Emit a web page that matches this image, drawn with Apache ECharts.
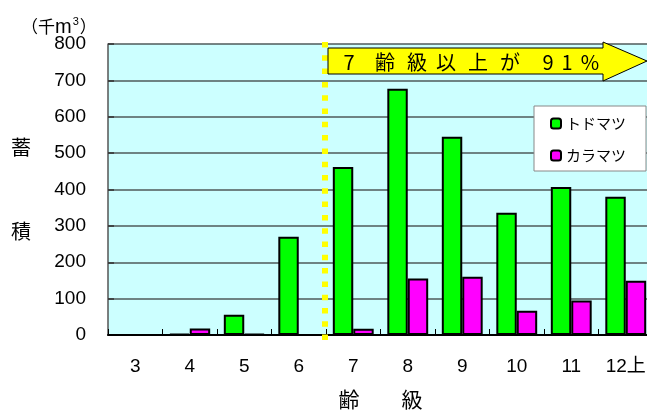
<!DOCTYPE html>
<html>
<head>
<meta charset="utf-8">
<script src="https://cdn.jsdelivr.net/npm/echarts@6/dist/echarts.min.js"></script>
<style>
html,body{margin:0;padding:0;background:#fff;}
#c{width:647px;height:410px;}
</style>
</head>
<body>
<div id="c"></div>
<script>
const categories = ['3', '4', '5', '6', '7', '8', '9', '10', '11', '12上'];
const todomatsu = [0, 3, 56, 270, 462, 677, 545, 336, 407, 380];
const karamatsu = [0, 18, 3, 0, 17, 155, 160, 67, 95, 149];
const seriesNames = ['トドマツ', 'カラマツ'];
const yMin = 0, yMax = 800, yInterval = 100;
const boundaryIndex = 4; // boundary between 6 and 7 age classes
const arrowChars = ['7', '齢', '級', '以', '上', 'が', '9', '1', '%'];
const arrowCharX = [349, 385, 417, 446, 478, 510, 548, 567, 590];

const FONT = "'Liberation Sans','Noto Sans CJK JP',sans-serif";
const CJK = "'Noto Sans CJK JP',sans-serif";

const chart = echarts.init(document.getElementById('c'), null, {renderer: 'canvas'});

const arrowGraphics = [{
  type: 'polygon',
  shape: {points: [[328, 48], [603, 48], [603, 42], [647, 61], [603, 81], [603, 74], [328, 74]]},
  style: {fill: '#FFFF00', stroke: '#000', lineWidth: 1},
  z: 100
}];
arrowChars.forEach((ch, i) => {
  arrowGraphics.push({
    type: 'text',
    x: arrowCharX[i], y: 62,
    style: {text: ch, font: "20px " + CJK, fill: '#000', align: 'center', verticalAlign: 'middle'},
    z: 101
  });
});

chart.setOption({
  animation: false,
  backgroundColor: '#fff',
  textStyle: {fontFamily: FONT},
  title: {
    left: 16, top: 11,
    text: '{a|（千}{m|m}{s|3}{a|）}',
    textStyle: {
      fontWeight: 'normal',
      rich: {
        a: {fontSize: 17, fontFamily: CJK, color: '#000', fontWeight: 'normal'},
        m: {fontSize: 20, fontFamily: FONT, color: '#000', fontWeight: 'normal'},
        s: {fontSize: 11, fontFamily: FONT, color: '#000', fontWeight: 'normal', padding: [0, 1, 11, 1]}
      }
    }
  },
  grid: {left: 108, top: 44, right: -6, bottom: 75, show: true, backgroundColor: '#CCFFFF', borderWidth: 0,
         containLabel: false, outerBoundsMode: 'none'},
  legend: {
    data: seriesNames,
    orient: 'vertical',
    left: 534, top: 106,
    backgroundColor: '#fff',
    borderColor: '#888',
    borderWidth: 1,
    padding: [10, 20, 8, 16],
    itemWidth: 10, itemHeight: 10,
    itemGap: 17,
    textStyle: {fontSize: 15, fontFamily: CJK, color: '#000'}
  },
  xAxis: [{
    type: 'category',
    data: categories,
    position: 'bottom',
    z: 10,
    name: '齢　　級',
    nameLocation: 'middle',
    nameGap: 54,
    nameTextStyle: {fontSize: 21, fontFamily: CJK, color: '#000'},
    axisLine: {show: true, onZero: false, lineStyle: {color: '#000', width: 2}},
    axisTick: {show: true, inside: true, length: 6, interval: 0, lineStyle: {color: '#000', width: 1}},
    axisLabel: {fontSize: 19, color: '#000', margin: 22, interval: 0, fontFamily: FONT},
    splitLine: {show: false}
  }, {
    type: 'value',
    position: 'top',
    min: 0, max: categories.length,
    show: false
  }],
  yAxis: {
    type: 'value',
    min: yMin, max: yMax, interval: yInterval,
    name: '蓄\n\n\n積',
    nameLocation: 'middle',
    nameRotate: 0,
    nameGap: 77,
    nameTextStyle: {fontSize: 20, fontFamily: CJK, color: '#000', lineHeight: 28, align: 'right'},
    axisLine: {show: true, lineStyle: {color: '#555', width: 1.5}},
    axisTick: {show: true, inside: true, length: 6, lineStyle: {color: '#333', width: 1.5}},
    axisLabel: {fontSize: 19, color: '#000', margin: 22, fontFamily: FONT},
    splitLine: {show: true, lineStyle: {color: '#4f5a5a', width: 1.6}}
  },
  series: [{
    name: seriesNames[0],
    type: 'bar',
    data: todomatsu,
    barGap: '0%',
    barCategoryGap: '25%',
    itemStyle: {color: '#00FF00', borderColor: '#000', borderWidth: 2},
    z: 3
  }, {
    name: seriesNames[1],
    type: 'bar',
    data: karamatsu,
    barGap: '0%',
    barCategoryGap: '25%',
    itemStyle: {color: '#FF00FF', borderColor: '#000', borderWidth: 2},
    z: 3
  }],
  graphic: arrowGraphics
});

// dotted boundary line between age classes 6 and 7, placed through the axes' scales
const bx = chart.convertToPixel({xAxisIndex: 1}, boundaryIndex);
const yTop = chart.convertToPixel({yAxisIndex: 0}, yMax);
const yBottom = chart.convertToPixel({yAxisIndex: 0}, yMin);
chart.setOption({
  graphic: arrowGraphics.concat([{
    type: 'line',
    shape: {x1: bx - 1, y1: yTop - 2, x2: bx - 1, y2: yBottom + 5},
    style: {stroke: '#FFFF00', lineWidth: 6, lineDash: [5.5, 7.8]},
    z: 90
  }])
});
</script>
</body>
</html>
